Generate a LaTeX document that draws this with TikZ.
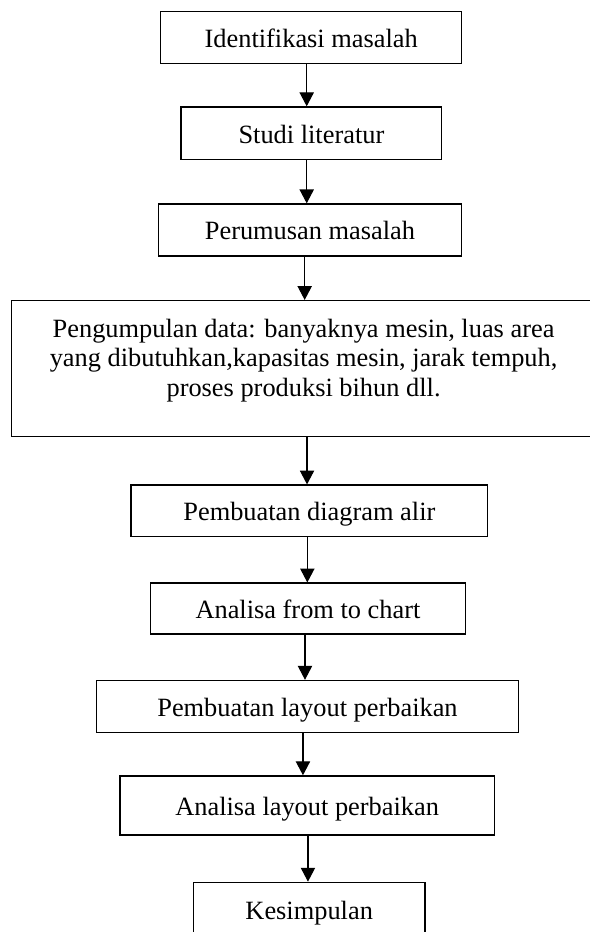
\documentclass[tikz,border=0pt]{standalone}
\usepackage{fontspec}
\setmainfont{Liberation Serif}
\usetikzlibrary{arrows.meta}

\begin{document}
\begin{tikzpicture}[x=1in,y=1in,>={Triangle[length=6.4pt,width=6.6pt]},
  box/.style={draw,line width=0.6pt,inner sep=0pt,text height=9.5pt,text depth=0.3pt},
  font=\fontsize{12.2}{13.6}\selectfont]
  \useasboundingbox (0,0) rectangle (3.776,5.965);
  \clip (0,0) rectangle (3.776,5.965);
  \node[box,minimum width=1.926in,minimum height=0.330in] (idn) at (1.992,5.725) {Identifikasi masalah};
  \node[box,minimum width=1.668in,minimum height=0.335in] (studi) at (1.993,5.113) {Studi literatur};
  \node[box,minimum width=1.942in,minimum height=0.333in] (rumus) at (1.984,4.493) {Perumusan masalah};
  \node[box,minimum width=3.742in,minimum height=0.870in] (data) at (1.943,3.606) {};
  \node[align=center] (datatxt) at (1.943,3.657) {Pengumpulan data: banyaknya mesin, luas area\\yang dibutuhkan,kapasitas mesin, jarak tempuh,\\proses produksi bihun dll.};
  \node[box,minimum width=2.283in,minimum height=0.331in] (alir) at (1.980,2.695) {Pembuatan diagram alir};
  \node[box,minimum width=2.013in,minimum height=0.326in] (ftc) at (1.971,2.070) {Analisa from to chart};
  \node[box,minimum width=2.698in,minimum height=0.332in] (lay) at (1.968,1.444) {Pembuatan layout perbaikan};
  \node[box,minimum width=2.396in,minimum height=0.378in] (anl) at (1.966,0.810) {Analisa layout perbaikan};
  \node[box,minimum width=1.483in,minimum height=0.346in] (simp) at (1.979,0.145) {Kesimpulan};
  \draw[->,line width=0.5pt] (idn.south -| 1.963,0) -- (studi.north -| 1.963,0);
  \draw[->,line width=0.5pt] (studi.south -| 1.963,0) -- (rumus.north -| 1.963,0);
  \draw[->,line width=0.5pt] (rumus.south -| 1.950,0) -- (data.north -| 1.950,0);
  \draw[->,line width=0.5pt] (data.south -| 1.965,0) -- (alir.north -| 1.965,0);
  \draw[->,line width=0.5pt] (alir.south -| 1.967,0) -- (ftc.north -| 1.967,0);
  \draw[->,line width=0.5pt] (ftc.south -| 1.952,0) -- (lay.north -| 1.952,0);
  \draw[->,line width=0.5pt] (lay.south -| 1.939,0) -- (anl.north -| 1.939,0);
  \draw[->,line width=0.5pt] (anl.south -| 1.971,0) -- (simp.north -| 1.971,0);
\end{tikzpicture}
\end{document}
